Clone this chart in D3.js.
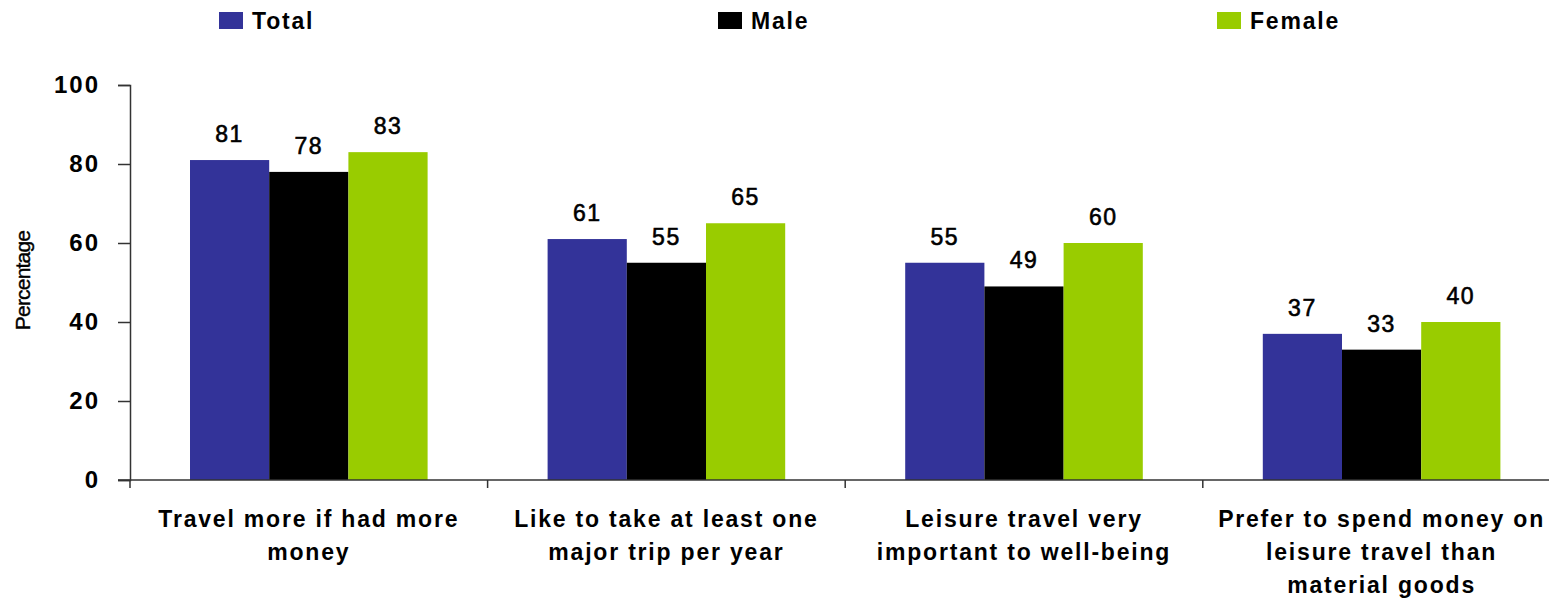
<!DOCTYPE html>
<html>
<head>
<meta charset="utf-8">
<script src="https://cdn.jsdelivr.net/npm/d3@7"></script>
<style>
  body { margin: 0; background: #fff; }
  svg { display: block; font-family: "Liberation Sans", Arial, sans-serif; }
</style>
</head>
<body>
<div id="chart"></div>
<script>
// data
const categories = [
  'Travel more if had more money',
  'Like to take at least one major trip per year',
  'Leisure travel very important to well-being',
  'Prefer to spend money on leisure travel than material goods'
]
const categoryLines = [
  ['Travel more if had more', 'money'],
  ['Like to take at least one', 'major trip per year'],
  ['Leisure travel very', 'important to well-being'],
  ['Prefer to spend money on', 'leisure travel than', 'material goods']
]
const series = ['Total', 'Male', 'Female']
const totalValues = [81, 61, 55, 37]
const maleValues = [78, 55, 49, 33]
const femaleValues = [83, 65, 60, 40]
const yTicks = [0, 20, 40, 60, 80, 100]
const colors = ['#333399', '#000000', '#99cc00']

const width = 1549, height = 598
const margin = { top: 85, left: 130, bottom: 118 }

const svg = d3.select('#chart').append('svg')
  .attr('width', width)
  .attr('height', height)

const rows = categories.map((c, i) => ({
  cat: c,
  values: [totalValues[i], maleValues[i], femaleValues[i]]
}))

const x0 = d3.scaleBand()
  .domain(categories)
  .range([margin.left, margin.left + 4 * 357.6])
  .padding(0)

const x1 = d3.scaleBand()
  .domain(series)
  .range([60, x0.bandwidth() - 60])
  .padding(0)

const y = d3.scaleLinear()
  .domain([0, 100])
  .range([height - margin.bottom, margin.top])

const color = d3.scaleOrdinal().domain(series).range(colors)

// bars
const groups = svg.selectAll('.grp')
  .data(rows)
  .join('g')
  .attr('class', 'grp')
  .attr('transform', d => `translate(${x0(d.cat)},0)`)

groups.selectAll('rect')
  .data(d => d.values.map((v, i) => ({ key: series[i], value: v })))
  .join('rect')
  .attr('x', d => x1(d.key))
  .attr('y', d => y(d.value))
  .attr('width', x1.bandwidth())
  .attr('height', d => y(0) - y(d.value))
  .attr('fill', d => color(d.key))

// value labels
groups.selectAll('.val')
  .data(d => d.values.map((v, i) => ({ key: series[i], value: v })))
  .join('text')
  .attr('class', 'val')
  .attr('x', d => x1(d.key) + x1.bandwidth() / 2)
  .attr('y', d => y(d.value) - 18)
  .attr('text-anchor', 'middle')
  .style('font-size', '23px')
  .style('letter-spacing', '1.5px')
  .style('fill', '#000')
  .style('stroke', '#000')
  .style('stroke-width', '0.6px')
  .text(d => d.value)

// y axis
const yAxis = svg.append('g')
  .attr('transform', `translate(${margin.left},0)`)
  .call(d3.axisLeft(y).tickValues(yTicks).tickSize(12).tickPadding(18))
yAxis.select('.domain').attr('stroke', '#333').attr('stroke-width', 1.5)
yAxis.selectAll('.tick line').attr('stroke', '#333').attr('stroke-width', 1.5)
yAxis.selectAll('.tick text')
  .style('font-size', '24px')
  .style('font-weight', 'bold')
  .style('letter-spacing', '2px')
  .style('font-family', '"Liberation Sans", Arial, sans-serif')
  .attr('fill', '#000')

// x axis line and category ticks
const xAxis = svg.append('g')
svg.append('line')
  .attr('x1', margin.left - 12)
  .attr('x2', width)
  .attr('y1', y(0))
  .attr('y2', y(0))
  .attr('stroke', '#333')
  .attr('stroke-width', 1.5)

xAxis.selectAll('line')
  .data(categories)
  .join('line')
  .attr('x1', d => x0(d))
  .attr('x2', d => x0(d))
  .attr('y1', y(0))
  .attr('y2', y(0) + 8)
  .attr('stroke', '#333')
  .attr('stroke-width', 1.5)

// category labels
const catText = svg.selectAll('.cat')
  .data(categories)
  .join('text')
  .attr('class', 'cat')
  .attr('text-anchor', 'middle')
  .style('font-size', '23px')
  .style('font-weight', 'bold')
  .style('letter-spacing', '1.8px')
  .style('fill', '#000')

catText.selectAll('tspan')
  .data((d, i) => categoryLines[i].map(l => ({ cat: d, line: l })))
  .join('tspan')
  .attr('x', d => x0(d.cat) + x0.bandwidth() / 2)
  .attr('y', (d, i) => 527 + i * 33)
  .text(d => d.line)

// y title
svg.append('text')
  .attr('transform', `translate(30,${y(50) - 2}) rotate(-90)`)
  .attr('text-anchor', 'middle')
  .style('font-size', '21px')
  .style('letter-spacing', '-0.8px')
  .style('fill', '#000')
  .style('stroke', '#000')
  .style('stroke-width', '0.4px')
  .text('Percentage')

// legend
const legendX = d3.scalePoint().domain(series).range([219, 1217])
const legend = svg.selectAll('.leg')
  .data(series)
  .join('g')
  .attr('class', 'leg')
  .attr('transform', d => `translate(${legendX(d)},12)`)
legend.append('rect')
  .attr('width', 24)
  .attr('height', 17)
  .attr('fill', d => color(d))
legend.append('text')
  .attr('x', 33)
  .attr('y', 17)
  .style('font-size', '23px')
  .style('font-weight', 'bold')
  .style('letter-spacing', '1.8px')
  .style('fill', '#000')
  .text(d => d)
</script>
</body>
</html>
